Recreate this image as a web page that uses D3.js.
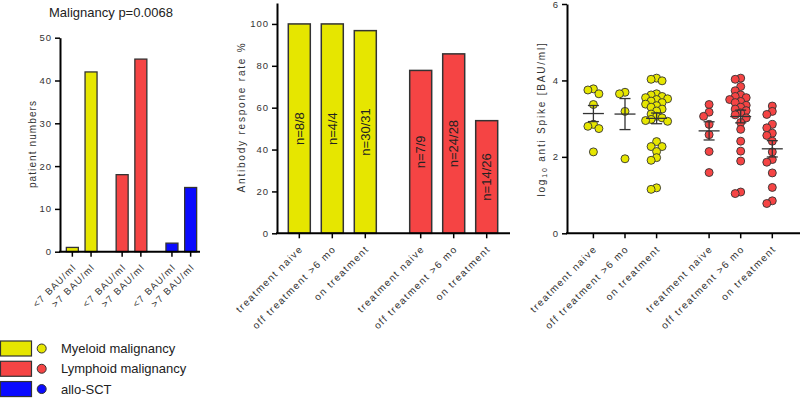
<!DOCTYPE html>
<html>
<head>
<meta charset="utf-8">
<script src="https://cdn.jsdelivr.net/npm/d3@7"></script>
<style>
  body { margin: 0; background: #fff; }
  svg { font-family: "Liberation Sans", Arial, sans-serif; }
  .tick text { fill: #333; font-size: 9.5px; letter-spacing: 1px; }
  .xlab { fill: #333; font-size: 10px; letter-spacing: 1.4px; }
  .xlab.small { font-size: 9.5px; letter-spacing: 1.2px; }
  .ttl { fill: #333; font-size: 10px; letter-spacing: 1.8px; }
  .ttl.small { letter-spacing: 1.1px; }
</style>
</head>
<body>
<svg id="chart" width="800" height="401"></svg>
<script>
// data
const groups = ["Myeloid malignancy", "Lymphoid malignancy", "allo-SCT"];
const groupColors = ["#e6e600", "#f54444", "#0a0aff"];
const cutoffLabels = ["<7 BAU/ml", ">7 BAU/ml"];
const patientNumbers = [[1, 42], [18, 45], [2, 15]];
const panelTitle = "Malignancy p=0.0068";

const treatments = ["treatment naive", "off treatment >6 mo", "on treatment"];
const responseRate = [[100, 100, 96.8], [77.8, 85.7, 53.8]];
const responseN = [["n=8/8", "n=4/4", "n=30/31"], ["n=7/9", "n=24/28", "n=14/26"]];

const myeloidSpike = [
  [3.75, 3.78, 3.65, 3.37, 2.80, 2.85, 2.74, 2.13],
  [3.65, 3.69, 3.19, 1.95],
  [4.06, 3.99, 4.03, 3.65, 3.62, 3.58, 3.55, 3.52, 3.50, 3.46, 3.42, 3.38, 3.34, 3.30,
   3.25, 3.20, 3.12, 3.06, 3.02, 2.98, 2.95, 2.93, 2.40, 2.27, 2.27, 2.14, 1.98, 1.91, 1.15, 1.19]
];
const lymphoidSpike = [
  [3.17, 3.06, 3.37, 2.85, 2.58, 2.14, 1.59],
  [4.06, 4.03, 3.84, 3.73, 3.62, 3.58, 3.55, 3.50, 3.45, 3.42, 3.35, 3.30, 3.25, 3.21,
   3.15, 3.10, 3.02, 2.90, 2.72, 2.41, 2.15, 1.89, 1.04, 1.08],
  [3.19, 3.33, 3.11, 2.76, 2.85, 2.56, 2.62, 2.41, 2.13, 1.93, 1.86, 1.58, 1.20, 0.78, 0.85]
];

const svg = d3.select("#chart");
const stroke = "#333";

function yAxis(g, scale, x, ticks) {
  g.attr("transform", `translate(${x},0)`)
    .call(d3.axisLeft(scale).tickValues(ticks).tickFormat(d3.format("d"))
      .tickSize(5).tickSizeOuter(0).tickPadding(3))
  g.select(".domain").attr("stroke", "#000").attr("stroke-width", 2);
  g.selectAll(".tick line").attr("stroke", "#000").attr("stroke-width", 1.5);
}

function xBase(x0, x1, y) {
  svg.append("line")
    .attr("x1", x0 - 1).attr("x2", x1).attr("y1", y).attr("y2", y)
    .attr("stroke", "#000").attr("stroke-width", 2);
}

function xLabels(items, base, cls) {
  const g = svg.append("g");
  g.selectAll("line").data(items).join("line")
    .attr("x1", d => d.x).attr("x2", d => d.x)
    .attr("y1", base).attr("y2", base + 5)
    .attr("stroke", "#000").attr("stroke-width", 1.5);
  g.selectAll("text").data(items).join("text")
    .attr("class", cls)
    .attr("text-anchor", "end")
    .attr("transform", d => `translate(${d.x + 4.4},${base + 16.3}) rotate(-45)`)
    .text(d => d.label);
}

function yTitle(x, y, text, cls) {
  return svg.append("text")
    .attr("class", cls)
    .attr("text-anchor", "middle")
    .attr("transform", `translate(${x},${y}) rotate(-90)`)
    .text(text);
}

// Panel 1 - patient numbers
{
  const base = 251.7;
  const y = d3.scaleLinear().domain([0, 50]).range([base, 37.7]);
  const gx = d3.scalePoint().domain(groups).range([81.7, 181.3]);
  const ix = d3.scalePoint().domain(cutoffLabels).range([-9.35, 9.35]);
  const bw = 12;

  const bars = [];
  groups.forEach((g, i) => cutoffLabels.forEach((c, j) => {
    bars.push({ group: g, cut: c, value: patientNumbers[i][j], color: groupColors[i] });
  }));

  svg.append("g").selectAll("rect").data(bars).join("rect")
    .attr("x", d => gx(d.group) + ix(d.cut) - bw / 2)
    .attr("y", d => y(d.value))
    .attr("width", bw)
    .attr("height", d => base - y(d.value))
    .attr("fill", d => d.color)
    .attr("stroke", stroke).attr("stroke-width", 1.3);

  xBase(60, 200, base);
  svg.append("g").call(g => yAxis(g, y, 60, [0, 10, 20, 30, 40, 50]));
  xLabels(bars.map(d => ({ x: gx(d.group) + ix(d.cut), label: d.cut })), base, "xlab small");

  yTitle(36, 144, "patient numbers", "ttl small");
  svg.append("text")
    .attr("x", 111).attr("y", 17)
    .attr("text-anchor", "middle")
    .attr("font-size", 13).attr("fill", "#222")
    .text(panelTitle);
}

// Panel 2 - response rate
{
  const base = 233.3;
  const y = d3.scaleLinear().domain([0, 110]).range([base, 3]);
  const gx = d3.scalePoint().domain(groups.slice(0, 2)).range([332.3, 453.7]);
  const ix = d3.scalePoint().domain(treatments).range([-33, 33]);
  const bw = 22;

  const bars = [];
  groups.slice(0, 2).forEach((g, i) => treatments.forEach((t, j) => {
    bars.push({ group: g, tr: t, value: responseRate[i][j], n: responseN[i][j], color: groupColors[i] });
  }));

  svg.append("g").selectAll("rect").data(bars).join("rect")
    .attr("x", d => gx(d.group) + ix(d.tr) - bw / 2)
    .attr("y", d => y(d.value))
    .attr("width", bw)
    .attr("height", d => base - y(d.value))
    .attr("fill", d => d.color)
    .attr("stroke", stroke).attr("stroke-width", 1.5);

  svg.append("g").selectAll("text").data(bars).join("text")
    .attr("text-anchor", "middle")
    .attr("font-size", 13).attr("fill", "#222")
    .attr("dy", "0.35em")
    .attr("transform", d => `translate(${gx(d.group) + ix(d.tr)},${y(d.value / 2)}) rotate(-90)`)
    .text(d => d.n);

  xBase(277, 510, base);
  svg.append("g").call(g => yAxis(g, y, 277, [0, 20, 40, 60, 80, 100]));
  xLabels(bars.map(d => ({ x: gx(d.group) + ix(d.tr), label: d.tr })), base, "xlab");

  yTitle(244.5, 117, "Antibody respone rate %", "ttl");
}

// Panel 3 - log10 anti spike
{
  const base = 233.3;
  const y = d3.scaleLinear().domain([0, 6]).range([base, 4]);
  const gx = d3.scalePoint().domain(groups.slice(0, 2)).range([625, 740.7]);
  const ix = d3.scalePoint().domain(treatments).range([-31.6, 31.6]);
  const series = [myeloidSpike, lymphoidSpike];

  // simple beeswarm so dots sit side by side
  function swarm(vals, cx) {
    const placed = [];
    const offs = [0, -5.5, 5.5, -2.75, 2.75, -8, 8, -11, 11];
    vals.slice().sort((a, b) => b - a).forEach(v => {
      const py = y(v);
      let o = offs.find(o => placed.every(p => Math.hypot(p.x - (cx + o), p.y - py) >= 5));
      if (o === undefined) o = 0;
      placed.push({ x: cx + o, y: py });
    });
    return placed;
  }

  xBase(567, 800, base);
  svg.append("g").call(g => yAxis(g, y, 567, [0, 2, 4, 6]));

  const ticks = [];
  groups.slice(0, 2).forEach((g, i) => treatments.forEach((t, j) => {
    const cx = gx(g) + ix(t);
    ticks.push({ x: cx, label: t });
    const vals = series[i][j];
    const pts = swarm(vals, cx);

    svg.append("g").selectAll("circle").data(pts).join("circle")
      .attr("cx", d => d.x).attr("cy", d => d.y).attr("r", 4)
      .attr("fill", groupColors[i])
      .attr("stroke", stroke).attr("stroke-width", 0.9);

    const m = d3.mean(vals);
    const sem = d3.deviation(vals) / Math.sqrt(vals.length);
    const e = svg.append("g").attr("stroke", "#333").attr("stroke-width", 1.3);
    e.append("line").attr("x1", cx - 10.5).attr("x2", cx + 10.5).attr("y1", y(m)).attr("y2", y(m));
    e.append("line").attr("x1", cx).attr("x2", cx).attr("y1", y(m - sem)).attr("y2", y(m + sem));
    [m - sem, m + sem].forEach(v => {
      e.append("line").attr("x1", cx - 5.5).attr("x2", cx + 5.5).attr("y1", y(v)).attr("y2", y(v));
    });
  }));

  xLabels(ticks, base, "xlab");

  const t = yTitle(545, 119, "log", "ttl");
  t.append("tspan").attr("font-size", 7).attr("dy", "0.35em").text("10");
  t.append("tspan").attr("dy", "-0.25em").text(" anti Spike [BAU/ml]");
}

// legend
{
  const lg = svg.append("g");
  const row = d3.scaleBand().domain(groups).range([341, 400]).paddingInner(0.09);
  groups.forEach((g, i) => {
    const yy = row(g);
    lg.append("rect")
      .attr("x", 0.5).attr("y", yy).attr("width", 31).attr("height", 15)
      .attr("fill", groupColors[i]).attr("stroke", stroke).attr("stroke-width", 1.2);
    lg.append("circle")
      .attr("cx", 41.7).attr("cy", yy + 7.5).attr("r", 4.5)
      .attr("fill", groupColors[i]).attr("stroke", stroke).attr("stroke-width", 1);
    lg.append("text")
      .attr("x", 61).attr("y", yy + 12)
      .attr("font-size", 13).attr("fill", "#222")
      .text(g);
  });
}
</script>
</body>
</html>
